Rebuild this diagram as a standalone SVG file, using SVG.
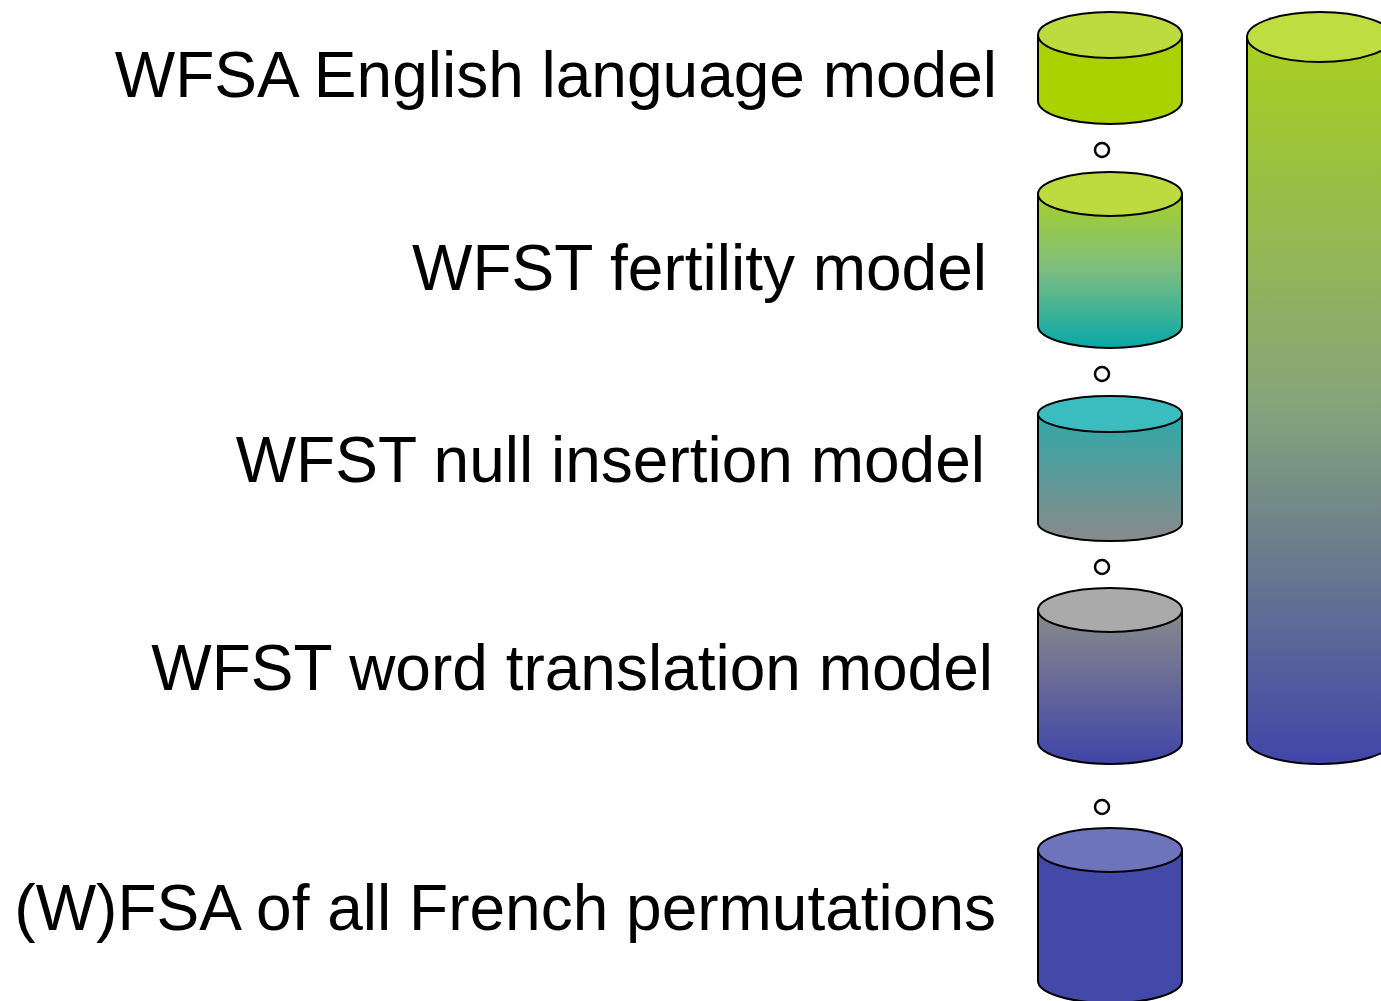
<svg xmlns="http://www.w3.org/2000/svg" width="1381" height="1001" viewBox="0 0 1381 1001">
  <style>
    .label { font-family: "Liberation Sans", Arial, sans-serif; font-size: 64px; fill: #000; text-anchor: end; }
    .edge { stroke: #000; stroke-width: 2; }
    .dot { fill: #fff; stroke: #000; stroke-width: 2.5; }
  </style>
  <defs>
    <linearGradient id="g-fert" x1="0" y1="0" x2="0" y2="1">
      <stop offset="0" stop-color="#a8d028"/>
      <stop offset="0.5" stop-color="#7cbd82"/>
      <stop offset="1" stop-color="#08a8a8"/>
    </linearGradient>
    <linearGradient id="g-null" x1="0" y1="0" x2="0" y2="1">
      <stop offset="0" stop-color="#2fa8a8"/>
      <stop offset="1" stop-color="#8a8a8a"/>
    </linearGradient>
    <linearGradient id="g-word" x1="0" y1="0" x2="0" y2="1">
      <stop offset="0" stop-color="#8a8a8a"/>
      <stop offset="1" stop-color="#4045a8"/>
    </linearGradient>
    <linearGradient id="g-all" x1="0" y1="0" x2="0" y2="1">
      <stop offset="0" stop-color="#a8d020"/>
      <stop offset="0.5" stop-color="#86a57a"/>
      <stop offset="1" stop-color="#4146a9"/>
    </linearGradient>
  </defs>

  <!-- labels -->
  <text class="label" x="997" y="97">WFSA English language model</text>
  <text class="label" x="987" y="290">WFST fertility model</text>
  <text class="label" x="985" y="482">WFST null insertion model</text>
  <text class="label" x="993" y="690">WFST word translation model</text>
  <text class="label" x="996" y="930">(W)FSA of all French permutations</text>

  <!-- composition operators between stages -->
  <g id="connectors">
    <circle class="dot" cx="1102" cy="150" r="7"/>
    <circle class="dot" cx="1102" cy="374" r="7"/>
    <circle class="dot" cx="1102" cy="567" r="7"/>
    <circle class="dot" cx="1102" cy="807" r="7"/>
  </g>

  <g id="lm">
    <path class="edge" fill="#a9d200" d="M1038,35 V101 A72,23 0 0 0 1182,101 V35 Z"/>
    <ellipse class="edge" fill="#bddb3f" cx="1110" cy="35" rx="72" ry="23"/>
  </g>

  <g id="fertility">
    <path class="edge" fill="url(#g-fert)" d="M1038,194 V326 A72,22 0 0 0 1182,326 V194 Z"/>
    <ellipse class="edge" fill="#bddb3f" cx="1110" cy="194" rx="72" ry="22"/>
  </g>

  <g id="null-insertion">
    <path class="edge" fill="url(#g-null)" d="M1038,414 V523 A72,18 0 0 0 1182,523 V414 Z"/>
    <ellipse class="edge" fill="#3bbcbe" cx="1110" cy="414" rx="72" ry="18"/>
  </g>

  <g id="word-translation">
    <path class="edge" fill="url(#g-word)" d="M1038,610 V742 A72,22 0 0 0 1182,742 V610 Z"/>
    <ellipse class="edge" fill="#aaaaaa" cx="1110" cy="610" rx="72" ry="22"/>
  </g>

  <g id="french-perms">
    <path class="edge" fill="#4349a9" d="M1038,850 V981 A72,22 0 0 0 1182,981 V850 Z"/>
    <ellipse class="edge" fill="#6e74bc" cx="1110" cy="850" rx="72" ry="22"/>
  </g>

  <g id="composed">
    <path class="edge" fill="url(#g-all)" d="M1247,37 V740 A73,24 0 0 0 1393,740 V37 Z"/>
    <ellipse class="edge" fill="#bedd40" cx="1320" cy="37" rx="73" ry="25"/>
  </g>
</svg>
